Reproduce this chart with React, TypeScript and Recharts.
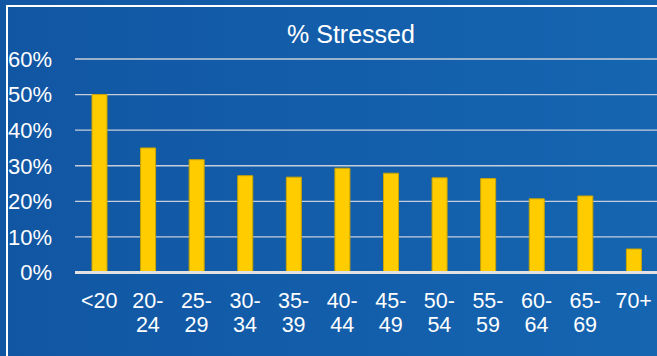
import { BarChart, Bar, XAxis, YAxis, CartesianGrid } from 'recharts'

// Age groups and share of respondents reporting stress (%)
const ageGroups = ['<20', '20-24', '25-29', '30-34', '35-39', '40-44', '45-49', '50-54', '55-59', '60-64', '65-69', '70+']
const stressedPct = [50, 35, 31.7, 27.2, 26.8, 29.3, 27.9, 26.6, 26.4, 20.7, 21.5, 6.6]
const yTicks = [0, 10, 20, 30, 40, 50, 60]

const chartData = ageGroups.map((group, i) => ({ group, value: stressedPct[i] }))

const FONT = '"Liberation Sans", Arial, sans-serif'

// Two-line age labels: "20-" on top, "24" underneath
const AgeTick = ({ x, y, payload }: any) => {
  const label: string = payload.value
  const lines = label.includes('-') ? [label.split('-')[0] + '-', label.split('-')[1]] : [label]
  return (
    <g>
      {lines.map((line, i) => (
        <text
          key={i}
          x={x}
          y={y + 35 + i * 24.7}
          textAnchor="middle"
          fill="#ffffff"
          fontSize={21.5}
          fontFamily={FONT}
        >
          {line}
        </text>
      ))}
    </g>
  )
}

export default function App() {
  return (
    <div
      style={{
        position: 'absolute',
        left: 0,
        top: 0,
        width: 657,
        height: 356,
        overflow: 'hidden',
        background: 'linear-gradient(to right, #1156a3, #1565b1)',
      }}
    >
      <div
        style={{
          position: 'absolute',
          left: 6,
          top: 5,
          width: 720,
          height: 420,
          borderTop: '2px solid #ffffff',
          borderLeft: '2px solid #ffffff',
        }}
      />
      <svg style={{ position: 'absolute', left: 0, top: 0 }} width={657} height={60}>
        <text x={351} y={43} textAnchor="middle" fill="#ffffff" fontSize={25} fontFamily={FONT}>
          % Stressed
        </text>
      </svg>
      <div style={{ position: 'absolute', left: 0, top: 0 }}>
        <BarChart
          width={658}
          height={356}
          data={chartData}
          margin={{ top: 59, right: 0, left: 0, bottom: 0 }}
          barCategoryGap={0}
        >
          <CartesianGrid vertical={false} stroke="#c6cedb" strokeWidth={1.3} />
          <XAxis
            dataKey="group"
            height={83.5}
            tickSize={0}
            tickMargin={0}
            interval={0}
            tick={<AgeTick />}
            axisLine={{ stroke: '#e2e2e2', strokeWidth: 3 }}
          />
          <YAxis
            width={75}
            domain={[0, 60]}
            ticks={yTicks}
            tickFormatter={(v) => `${v}%`}
            tickSize={0}
            tickMargin={23}
            axisLine={false}
            tick={{ fill: '#ffffff', fontSize: 22, fontFamily: FONT }}
          />
          <Bar
            dataKey="value"
            fill="#ffcc00"
            stroke="#c9a400"
            strokeWidth={1}
            barSize={15}
            isAnimationActive={false}
          />
        </BarChart>
      </div>
    </div>
  )
}
